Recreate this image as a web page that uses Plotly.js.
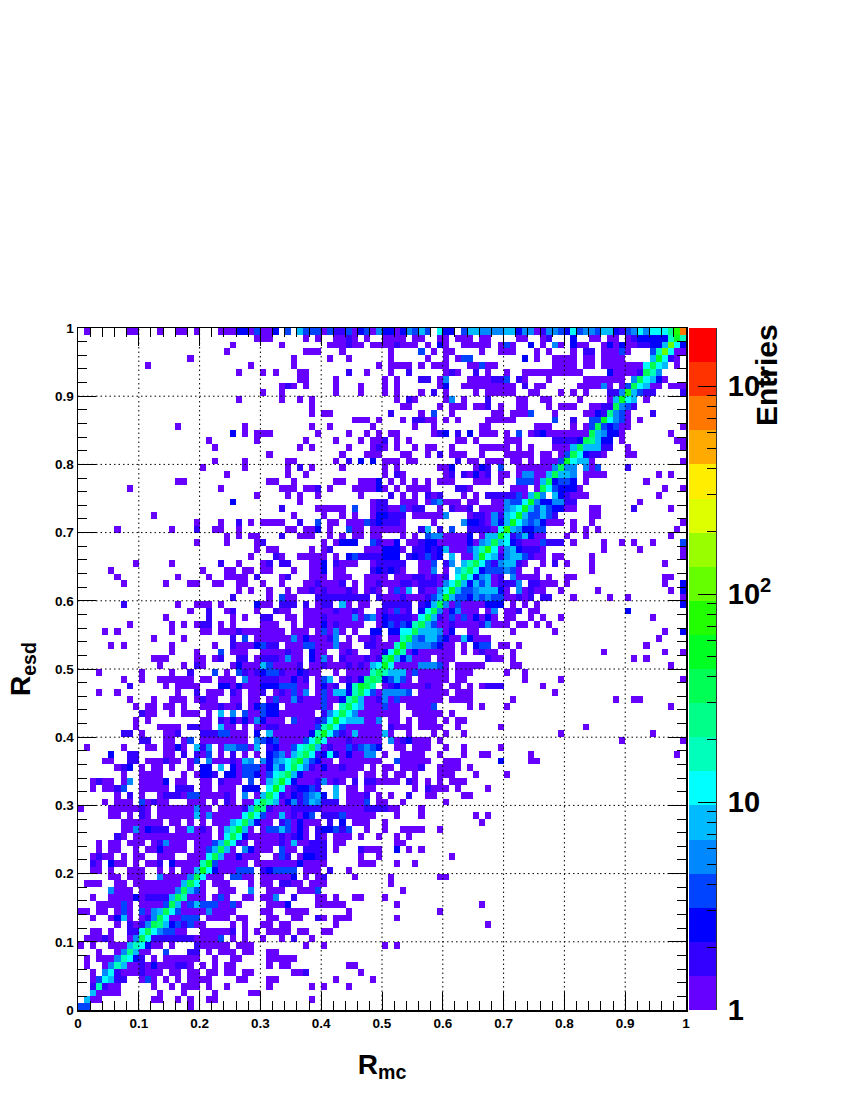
<!DOCTYPE html>
<html>
<head>
<meta charset="utf-8">
<script src="https://cdn.plot.ly/plotly-3.0.1.min.js"></script>
<style>html,body{margin:0;padding:0;background:#fff}</style>
</head>
<body>
<div id="chart" style="width:850px;height:1100px"></div>
<script>
// Palette bands, bottom to top of the scale
const bandColors = ["#6600ff","#3300ff","#0000ff","#0044ff","#0088ff","#00bbff","#00ffff","#00ffbb","#00ff88","#00ff55","#00ff22","#22ff00","#66ff00","#99ff00","#ddff00","#ffee00","#ffaa00","#ff7700","#ff3300","#ff0000"];
// Representative bin entries for each band
const bandEntries = [1,2,3,4,5,8,12,18,26,38,55,80,115,165,240,350,500,730,1050,1500];
const maxEntries = 1905;
const gridTicks = [0.1,0.2,0.3,0.4,0.5,0.6,0.7,0.8,0.9];
const scaleTicks = [1,10,100,1000];
const scaleLabels = ["1","10","10<sup>2</sup>","10<sup>3</sup>"];
// One string per Resd bin, top row first. "column:bands", a band in base 36, "." is an empty bin
const rows = [
"1:0 8:00 13:0 16:00 19:0 23:000 26:22 28:0 29:3 30:00 32:2 34:3.5333031130230422024353.622.35544445524401443263443552134646668bh",
"29:000 37:0 39:0 42:0010 47:0 50:0000 55:00 59:0 60:0 62:000 66:0 67:0 72:00 76:0 77:1 81:2 84:00 87:00 90:0 91:1 92:2222 96:2 97:7 98:a 99:7",
"25:0 33:0 41:000100 48:00 50:001000 57:0 59:2 60:0 63:0000 67:0 69:0 70:3 71:0 74:2 76:0 78:4 79:0 81:2 82:00 86:0 87:2 88:0 89:2 90:001122 96:5 97:c 98:6 99:2",
"24:0 37:000 43:0 51:0 56:3 58:0 60:00 66:0 69:000 75:0 77:0 81:0 83:11 86:00000 89:3 94:3 95:7 96:c 97:6 98:0 99:0",
"18:0 35:0 41:0 44:0 51:0 57:0 60:0 62:033 73:2 75:0 78:000 81:0 83:00 86:0000 94:5 95:a 96:6 97:1 98:0",
"11:0 28:0 35:0 49:0 51:0000 56:0 58:000 60:0 64:00 66:31 67:00 78:000 81:0 83:00 86:000000 92:0 93:6 94:9 95:6 96:5 98:0",
"26:0 30:0 32:0 36:00 44:1 47:0 51:0 54:1 60:01 62:0 65:1 67:0 70:0 73:0000000000 87:2 88:0 89:0 90:00 92:1 93:9 94:7 95:4",
"36:00 42:0 50:0 52:0 56:11 59:0 60:4 64:0000 67:011 70:3 72:1 73:0 77:0 83:000 86:000 89:0 91:4 92:9 93:6 94:5 95:2 96:0",
"33:010 37:0 42:0 46:0 50:0 52:0 59:0 60:2 63:00000 67:00000 73:1 75:00 82:0000 86:4 87:0 89:0 90:3 91:9 92:6 93:5 94:00 97:0 98:00",
"30:0 33:0 42:0 46:0 50:0 52:0 56:0 58:1 60:0 65:0 67:0000 71:0 74:00 79:0 81:0 83:0 87:11 89:4 90:b 91:5 92:3 93:11 99:1",
"26:0 33:0 36:0 38:0 52:0 54:10 60:0 61:4 63:0 67:1 72:00 76:00 82:0 87:0 88:5 89:a 90:6 91:5 93:0",
"38:0 53:00 59:0 61:000 65:000 67:1 69:0 72:00 77:0 79:000 84:00 86:11 88:9 89:4 90:3 91:1",
"38:0 40:00 51:1 56:0 58:3 61:0 68:00 71:0003 78:0 83:002 86:1 87:8 88:4 89:3 90:0 94:1",
"45:000 49:0 53:0 55:11 57:00 60:0 62:0 67:0 68:000 71:0 78:3 81:1 84:33 86:a 87:6 88:4 89:3 90:0 92:0",
"16:0 27:0 38:0 41:0 48:0 55:0 58:0 66:00 67:0 75:000 81:0 83:0 84:3 85:9 86:3 87:2 88:3 89:00 99:0",
"25:2 27:0 29:000 39:0 44:0 47:0 49:0 51:00 58:012 62:1 64:2 66:00 67:00 70:0 72:3 74:012000 80:0000 84:9 85:5 86:4 87:2 88:2 89:0 97:0",
"21:0 29:0 37:0 42:0 46:0 48:00 50:1 52:0 54:0 62:00 65:0 70:000 78:1111 82:2 83:9 84:8 85:5 86:2 87:2 89:0 98:00",
"22:0 36:0 38:0 44:0 48:010 52:0 55:0 57:00 61:0 66:00 67:000 70:0 72:0 74:0 78:000 81:5 82:9 83:5 84:5 85:5 86:11 90:0 99:0",
"31:0 43:0 47:000 53:00 57:0 59:1 61:000 66:0 70:00000 76:00 79:0 80:3 81:9 82:6 83:2 84:1 85:1 86:0 90:00",
"22:0 27:0 34:00 42:0 44:1 46:2 48:2 50:000 54:00 62:1 64:00 67:000 71:00 74:0 76:000 79:3 80:a 81:6 82:55 84:0 99:0",
"20:0 27:0 34:0 36:1 38:0 43:0 50:0 52:0 59:00 61:2 65:0 66:2 67:1 69:3 72:000000 78:4 79:9 80:4 81:4 83:4 84:0 85:3 90:1",
"24:0 34:0 37:0 50:0 52:10 60:01 63:1 64:0 65:2 66:01 69:00 72:0 73:44 75:00 77:5 78:9 79:5 80:5 81:4 83:0000 95:0 97:0",
"16:00 31:00 35:0 42:00 46:000 49:2 51:0 53:0 55:0 57:0 59:0 60:00 65:000 67:0 69:0 72:33 74:3 75:0 76:5 77:9 78:2 79:3 80:3 81:2 83:0 93:0",
"8:0 23:0 33:000 37:001 41:0 45:00002 50:0 52:0 54:0 55:000 62:11 64:0 71:00 73:0 75:0 76:9 77:6 78:3 79:2 80:2 81:2 82:0 96:0 99:0",
"29:0 34:0 36:0 39:0 46:0 51:1 53:0 55:0 57:1 58:01 63:0 65:0 67:11111 72:3 73:0 74:5 75:9 76:4 78:5 79:2 80:1 81:000 95:0",
"25:2 36:0 48:011 53:000 57:0 58:34 60:000 64:00 68:00 70:4 71:3 72:3 73:6 74:a 75:4 76:2 77:2 78:44 80:11 92:0",
"33:1 39:00000 45:3 48:011 51:00 53:3 54:011 59:0 61:1 62:00 64:1 66:00 68:00 70:4 71:5 72:6 73:a 74:5 75:3 76:5 77:3 78:22 80:00 84:00 91:1 97:0",
"12:0 35:0 40:0 43:0 45:0 48:0 49:22 51:111 55:0 56:0000 60:4 64:0 65:1 66:11 67:0 68:4 69:1 70:5 71:6 72:a 73:5 74:33 76:5 77:3 78:1 84:00",
"19:0 23:0 26:1 28:0 30:0000 36:1 39:3 41:00 44:000 47:3 48:1 49:2 50:111 53:0 58:0 63:4 64:22 66:1 67:0 68:4 69:2 70:5 71:a 72:6 73:4 74:3 75:4 76:2 77:000 81:0 84:0 99:0",
"6:0 15:0 19:1 22:00 26:0 34:00 37:00 39:2 41:0 44:3 45:00 48:00 50:0000 56:1 57:5 59:1 61:3 64:1111 68:0 69:6 70:b 71:5 72:4 73:22 75:33 81:0 83:0 85:0 98:0",
"24:0 26:0 28:00 33:1 36:000 41:0 43:0 45:00 48:00 53:0 55:0 57:3 58:44 60:000 63:0 64:2 66:0 67:5 68:5 69:a 70:6 71:1 72:3 73:5 74:2 75:00 80:0 83:0 97:0",
"19:0 24:0 29:0 30:1 40:0 42:0 43:222 48:3 49:1 50:002 54:00122 59:0 60:0 61:00 63:0 64:2 65:0 66:4 67:5 68:9 69:5 70:6 71:2 72:1 73:000 76:3 77:111 81:0 86:0 89:0 91:0 94:0 99:3",
"29:0 31:00 38:0 40:01 47:000 50:222 53:0 55:11212 60:5 61:000 64:3 65:5 66:7 67:b 68:6 69:0 70:4 71:5 72:2 73:111 76:0 86:0 92:0 99:0",
"28:0 32:1 33:0 36:0000 40:0 42:0 44:23 46:1111 50:222 54:121312 61:5 63:0 64:0 65:5 66:a 67:6 68:5 69:1 70:4 71:5 72:5 73:3 74:1 75:00 78:00 84:0 99:0",
"9:0 15:0 23:1 26:0 30:01 33:11...002.1000..011111..003.14.5796 67:3 68:1 69:4 70:55 72:1 73:0 76:0 78:1 80:0 84:0 96:0",
"5:0 20:0 24:00 27:00 30:00 33:..0..002.00....121210..004.0.57962 67:3 68:3 69:3 70:4 71:3 72:0 75:0 84:0",
"6:0 16:0 21:0 24:00 26:00 29:1 33:01...000.000..0000.000110101.69624 67:5 68:0 69:1 71:4 72:0000 77:0 80:00 96:00",
"7:0 14:0 18:00 22:00 26:00 30:0 33:0...0010001.0.0010001101110469 63:5253 67:5 68:0 69:111 72:4 74:11 76:00 78:0 80:0 96:0 99:2",
"26:0 28:0 31:0 33:.0.0010100010.010.0305.10046a53345 67:5 68:5 69:2 70:0 72:4 73:0 74:1 75:00 79:0 85:0 97:0 99:2",
"25:1 31:0 33:300...111111111.10001000135a533243 67:4 68:3 69:3 70:0 71:0 72:1 73:0 74:1 76:11 81:0 87:0 90:0 99:0",
"7:1 16:0 19:000 23:0 29:2 30:00 33:111.1.011.50.00..11111.12594030000 67:222 71:0 73:0 75:0 99:2",
"18:0 21:1 24:01 29:0 32:1 33:00..0000010010..010301.2694024000. 67:0 68:4 70:00 72:1 74:00 90:2",
"14:0 21:1 25:0 27:0 30:11 33:.00.0001000040340211 53:1106951030 63:3020 67:2 68:0 70:00 74:0 76:0 79:0 94:0",
"8:0 15:0 17:0 19:011 23:0 25:0 30:000 33:..0.0002010000..0231 53:3279530010 63:0001 67:4 68:0 69:0 70:0 72:00 75:0 77:0",
"4:0 6:0 15:0 20:00 23:00 25:01000 30:000 33:0.000.03040.0..22.22 53:669555402. 63:.00. 71:0 78:0 96:0 99:2",
"12:0 17:0 25:1 27:3 29:0 30:000 33:0040200014.0.0010.00 53:7943553200 63:5200 67:0 95:0",
"5:0 7:0 15:0 22:0 25:10 27:00 29:2 30:3 31:11 33:.00033000400..110007 53:a54443200. 63:0.23 67:3 69:00 72:0 93:0",
"15:0 19:0 23:3 25:000 30:000 33:0100.200..010..0026a 53:702000000. 63:0.01 67:00 71:0 86:0 96:0 99:0",
"12:000 19:00 22:0 23:1 26:11 29:0 30:111 33:0400.2040.10001018a5 53:24000.000. 63:.... 67:1 68:00 71:0 91:0 93:0",
"13:0 17:0 19:10 25:0 26:2 27:0 28:0 29:0 30:5 31:3 32:0 33:0001.001000101056a60 53:00044430.0 63:0000 71:00 97:0",
"3:0 10:0 15:0 18:1 22:3 24:0 26:3 27:1 28:01 30:2 31:33 33:1002100..0.000079755 53:50300000.0 63:00.. 70:0 73:0",
"7:0 10:0 13:0000 17:00 20:00 23:00 25:0 27:4 28:00 30:1 31:11 33:00201.035.0102898235 53:30.00000.0 63:0... 73:0 79:0 99:0",
"8:1 14:0 16:0000 23:22 25:0 26:2 27:000 30:2 31:22 33:33300.0201.27a97.012 53:0000100.00 63:.0.0 67:111 76:0",
"3:0 6:0 16:0 19:1 21:000 25:1 26:0 28:00 30:1 32:0 33:10304.03055279630444 53:43.00000.0 63:00.. 78:0",
"8:0 12:0 15:000 19:0 20:100 25:00 28:00 31:0 32:3 33:00410003002795001403 53:0000000.00 63:00.. 71:0 88:0 91:00",
"9:0 11:00 14:00 17:0 20:000 23:1 24:00 26:1 28:0 29:2 30:3 31:22 33:.00000030.7965000300 53:.00003.... 63:.0.0 70:0 97:0",
"10:1 11:00 15:0 17:000 21:0 23:5 25:4 27:3 28:0 29:0 30:3 31:22 33:000000.1469640000000 53:..00000.0. 63:....",
"9:0 11:0 20:00 23:1 24:0 25:2 26:0 27:2 28:0 29:4 30:2 31:00 33:0.3000136a6555004.00 53:.0.000.0.0 63:0...",
"9:0 13:0000 18:1100 23:5 24:00 27:0 29:0 30:0 31:11 33:00000037963000000.10 53:00.0000..0 63:.... 69:0 83:0",
"7:11 10:0 14:00 16:1 20:111 23:33 25:000 29:2 31:5 32:0 33:0000027a63105000050. 53:.0...0.0.. 63:0... 79:0 94:0",
"10:11 14:00 17:0 18:3 20:00000 25:000 29:4 30:3 31:2 32:3 33:0000369600 43:0100000.40 53:12000.0... 63:.... 89:0 99:0",
"1:0 7:0 11:00 14:00 16:2 17:0 19:5 20:1 21:4 23:0 24:44 26:33 28:0 29:5 31:1 32:2 33:0036795010 43:0313432..0 53:0.000..0.. 63:0... 69:0",
"5:2 8:11 14:00 17:1 19:1 20:0 21:3 23:0 25:1 27:0 29:0 31:2 32:3 33:4057961262 43:020044.0.. 53:0000..0... 63:0..0 67:0 74:0 98:0",
"4:00 8:11 11:000100 18:0 19:3 21:4 22:000 25:1 26:0 27:5 28:4 30:4 31:2 32:4 33:568a53200. 43:0000000..3 53:00000..000 63:.... 69:2 74:00",
"6:01 8:2 10:0 12:00 15:0 18:0 20:22 23:5 25:2 26:0 27:333 30:0 31:2 32:5 33:3696410200 43:1000.0.00. 53:0001..0000 63:.0..",
"7:0 10:0 11:000 17:0 19:0 20:22 22:1 24:22 26:0 27:33 29:2 30:0 31:3 32:6 33:7952000000 43:000.00.0.0 53:0.0...000. 63:..0. 70:0",
"2:0100 7:0 8:4 10:0000 14:2 16:00 20:00 23:1 24:0 25:00 28:3 30:0 31:5 32:7 33:a620001401 43:0.1.110000 53:.10.0.0.00 63:0...",
"2:0 4:0 5:0 6:1 7:3 10:0000 14:0 16:111 20:00 23:000 27:222 31:6 32:a 33:6012231..5 43:.00.00.... 53:..0.1000.0 63:.... 67:0",
"6:0 8:1 10:0 13:0 14:111 17:0 18:33 20:000 23:0 24:1 25:0 27:4 29:0 30:5 31:9 32:6 33:1 34:0 35:2 36:1 37:3 38:4 39:5 40:2 42:5 44:000 47:1 49:0 51:0 54:1 57:00 63:00",
"4:0 6:0 7:00 10:3 11:0 12:1 13:00 18:0 19:0 20:0 22:0 24:1 25:0 27:0 28:0 29:6 30:9 31:7 32:5 33:0 34:2 35:4 36:1 37:3 38:5 39:4 40:111 44:0 45:00 47:3 49:0 50:0 53:0 60:0",
"0:0 5:0000 9:0 10:1 11:0 13:000 16:0000 20:0 21:0 23:00 25:0 26:0 27:1 28:5 29:9 30:8 31:1 32:00 34:0 35:11111 40:0000000 47:111 50:1 51:0 52:0 56:0 19:4",
"5:00 8:0 10:1 11:0 13:000 16:0 17:00 19:5 20:0 21:4 22:00 24:0 25:0 26:0 27:6 28:9 29:6 30:3 31:0 32:0 33:5 34:0 35:1 36:0 37:2 38:3 40:1 41:11 43:3 44:0000 48:0 52:0 56:0 65:0 67:0",
"7:00 9:00 11:00 13:0 15:00 18:0 20:0 22:000 25:5 26:6 27:9 28:5 29:2 30:00 33:1 34:3 35:0 36:2 37:000 41:1 43:2 45:00 47:0 50:0 66:0",
"7:004 10:0 11:2 12:111 16:0 17:0 18:5 19:0 20:1 21:0 23:0 24:5 25:7 26:a 27:5 28:0 30:0 31:33 33:5 34:3 35:0 36:2 37:0 39:1 40:22 42:3 43:1 44:3 47:0 50:0 53:0000 59:0",
"6:1 7:0 9:0 10:0 11:0000 15:0000000 23:0 24:6 25:9 26:6 27:2 28:00 30:00 32:00 33:1 34:0 35:1 36:2 37:0 39:1 40:0 42:00 44:0 46:0 49:0 52:0 54:0",
"3:0 5:00 8:000 12:0 13:1 14:4 15:000 19:000 22:3 23:5 24:9 25:6 26:1 27:0 29:00 31:00 33:1 34:0 35:5 36:00 38:111 42:00 52:00",
"3:0 5:00 9:0 11:0 12:0 13:2 14:000 17:0 19:00 21:3 22:5 23:9 24:5 25:0 27:4 28:2 29:000 33:3 34:00 37:111 40:1 42:0 46:1 47:000 52:2 54:0 56:0",
"2:01 4:00 7:0 9:00 13:000 18:00 20:0 21:6 22:9 23:5 24:0 25:0 26:2 27:000 32:0 33:3 34:1 36:0 37:22 39:1 40:1 46:0 49:0 61:0",
"2:1 3:0 5:2 6:00 9:0 11:00 13:1 15:2 16:000 19:0 20:7 21:a 22:3 23:00 25:00 27:0 29:00000 34:00 36:2 37:000 40:0 46:000 52:0 55:0",
"2:00 5:0 8:000 13:0 15:0 17:00 19:5 20:a 21:6 22:2 23:000 26:333 30:1 31:2 32:3 33:3 34:3 35:3 37:000 41:1 44:0",
"5:00 8:000 13:4 14:0 15:0 16:0 17:0 18:4 19:9 20:6 21:0 22:00 25:33 27:0 28:0 30:0 31:0 32:0 33:0 34:0 35:2 37:0 39:0 40:1 45:0 51:0 59:00",
"1:000 6:0 7:0 9:00 11:0 12:0000 16:0 17:5 18:9 19:6 20:0 22:000 28:0 30:00 33:11 35:00 38:000 51:0",
"5:4 6:00 8:0 10:00 12:0000 16:4 17:9 18:5 19:3 20:0 23:000 28:4 31:000 33:0 36:00 38:0 39:3 53:0",
"2:0 5:0 6:00 8:0 9:2 10:0 11:1111 15:5 16:9 17:7 18:0 19:00 22:0 23:3 24:0 27:00 30:0 31:0 32:4 35:1 39:00 42:0 45:00 50:0",
"3:00 5:0 6:0 7:3 8:0 10:0 11:0 12:00 14:3 15:9 16:5 17:0 18:3 19:5 20:333 23:0 24:0 25:3 26:0 31:00 33:0 34:2 39:00000 52:0 66:0",
"0:00 3:0 4:0 6:0 7:3 8:0 10:3 11:0 12:4 13:5 14:9 15:6 16:3 17:00 19:0 20:0 21:4 22:00 24:0 25:0 30:00 34:0 35:000 44:0 59:0",
"2:0 5:0 6:2 7:5 8:0 10:0 11:1 12:4 13:9 14:6 15:00 17:333 21:0 22:000 26:0 27:0 31:0 32:0 35:00 39:10 42:000 52:0",
"6:0 8:1 9:0 10:1 11:4 12:9 13:8 14:5 15:2 16:3 17:1 18:3 19:00 25:0 27:0 30:00 33:00 42:0 67:0",
"2:00 5:0 8:1 9:1 10:6 11:9 12:6 13:4 14:33 16:00 20:00000 25:1 27:0 29:0 31:000 34:0 36:00 40:00",
"1:000 4:1 5:0 8:0 9:4 10:9 11:6 12:1111111 19:0 20:0 21:0 22:0 23:3 25:0 27:0 30:0 33:0 35:1 38:0",
"0:0 2:0 5:00 7:0 8:5 9:7 10:6 11:2 12:0 13:0 15:0 19:1 20:0 21:00 23:0 24:0 26:0 27:0 28:0 37:0 40:0 50:0 52:0",
"3:0 6:00 7:4 8:8 9:5 10:0 11:0 14:3 18:11 21:0 23:000 27:0 28:0 31:00",
"1:0 3:000 6:4 7:7 8:6 9:2 10:1 12:0 14:000 17:000 22:0 25:00 31:000 34:00",
"1:0 4:0 5:4 6:7 7:5 8:0 9:0 10:1 11:0 12:2 13:0 14:00 16:11 18:0 20:0 22:0 24:00 31:0 33:00 44:00",
"2:0 4:4 5:6 6:1 7:000 10:1 11:00 13:0 15:0 16:0 18:00 21:00 24:00 27:00 35:001 46:0",
"2:0 3:3 4:6 5:5 6:11 10:0 11:3 12:0 14:0 16:0 18:000 21:0 26:00 31:00 42:0 48:0",
"2:1 3:7 4:1 5:00 12:0 15:0 17:000 21:0 24:0 31:0 38:0 40:0 44:0",
"2:5 3:0 4:000 13:0 17:0 22:0 28:00",
"1:5 2:00 12:00 16:0 18:0 21:00 38:0",
"0:33 18:0"
];

const nBins = 100;
const z = [];
for (let j = 0; j < nBins; j++) z.push(new Array(nBins).fill(null));
rows.forEach(function (row, r) {
  row.split(" ").forEach(function (seg) {
    const parts = seg.split(":");
    const start = parseInt(parts[0], 10);
    const bands = parts[1] || "";
    for (let i = 0; i < bands.length; i++) {
      const ch = bands[i];
      const col = start + i;
      if (ch !== "." && col < nBins) z[nBins - 1 - r][col] = Math.log10(bandEntries[parseInt(ch, 36)]);
    }
  });
});

const zTop = Math.log10(maxEntries);
const nBands = bandColors.length;
const colorscale = [];
bandColors.forEach(function (c, i) {
  colorscale.push([i / nBands, c]);
  colorscale.push([(i + 1) / nBands, c]);
});
const scaleEdges = [], scaleZ = [];
for (let i = 0; i <= nBands; i++) scaleEdges.push(Math.pow(10, i * zTop / nBands));
for (let i = 0; i < nBands; i++) scaleZ.push([(i + 0.5) * zTop / nBands]);

const W = 850, H = 1100, L = 78, R = 50, T = 328, B = 90;
const plotW = W - L - R;
const px = function (p) { return (p - L) / plotW; };

const shapes = [];
gridTicks.forEach(function (v) {
  const line = {color: "#000", width: 1, dash: "1.5px,3px"};
  shapes.push({type: "line", xref: "x", yref: "y", x0: v, x1: v, y0: 0, y1: 1, line: line, layer: "above"});
  shapes.push({type: "line", xref: "x", yref: "y", x0: 0, x1: 1, y0: v, y1: v, line: line, layer: "above"});
});

const tickFont = {family: "Liberation Sans, Arial, sans-serif", size: 13.5, color: "#000", weight: "bold"};
const titleFont = {family: "Liberation Sans, Arial, sans-serif", size: 28, color: "#000", weight: "bold"};

const axisBase = {
  range: [0, 1], dtick: 0.1, tick0: 0, ticks: "inside", ticklen: 18, tickwidth: 1, tickcolor: "#000",
  showline: true, linecolor: "#000", linewidth: 1.5, mirror: "ticks", showgrid: false, zeroline: false,
  tickfont: tickFont, fixedrange: true,
  minor: {dtick: 0.02, tick0: 0, ticks: "inside", ticklen: 9, tickwidth: 1, tickcolor: "#000", showgrid: false}
};

const data = [
  {type: "heatmap", z: z, x0: 0.005, dx: 0.01, y0: 0.005, dy: 0.01, coloraxis: "coloraxis", hoverongaps: false, xgap: 0, ygap: 0},
  {type: "heatmap", z: scaleZ, x: [0, 1], y: scaleEdges, xaxis: "x2", yaxis: "y2", coloraxis: "coloraxis"}
];

const layout = {
  width: W, height: H,
  margin: {l: L, r: R, t: T, b: B, pad: 0},
  paper_bgcolor: "#fff", plot_bgcolor: "#fff",
  coloraxis: {colorscale: colorscale, cmin: 0, cmax: zTop, showscale: false},
  xaxis: Object.assign({}, axisBase, {domain: [0, px(686)], anchor: "y",
    title: {text: "R<sub>mc</sub>", font: titleFont, standoff: 24}}),
  yaxis: Object.assign({}, axisBase, {anchor: "x",
    title: {text: "R<sub>esd</sub>", font: titleFont, standoff: 16}}),
  xaxis2: {domain: [px(689), px(716)], range: [0, 1], anchor: "y2", visible: false, fixedrange: true},
  yaxis2: {type: "log", range: [0, zTop], anchor: "x2", side: "right", domain: [0, 1],
    tickmode: "array", tickvals: scaleTicks, ticktext: scaleLabels,
    ticks: "inside", ticklen: 18, tickwidth: 1, tickcolor: "#000", ticklabelstandoff: 5,
    showline: true, linecolor: "#333", linewidth: 1, showgrid: false, zeroline: false, fixedrange: true,
    tickfont: {family: "Liberation Sans, Arial, sans-serif", size: 29, color: "#000", weight: "bold"},
    minor: {ticks: "inside", ticklen: 9, tickwidth: 1, tickcolor: "#000", dtick: "D1", showgrid: false}},
  shapes: shapes,
  annotations: [{text: "Entries", xref: "paper", yref: "paper", x: px(766), y: (H - B - 375) / (H - T - B),
    xanchor: "center", yanchor: "middle", textangle: -90, showarrow: false,
    font: {family: "Liberation Sans, Arial, sans-serif", size: 30, color: "#000", weight: "bold"}}],
  showlegend: false
};

Plotly.newPlot("chart", data, layout, {staticPlot: true, displayModeBar: false});
</script>
</body>
</html>
